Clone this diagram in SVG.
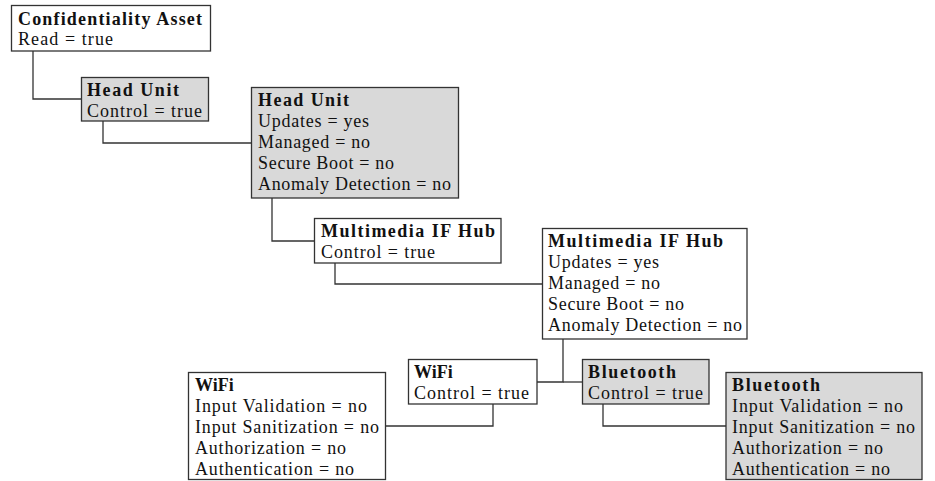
<svg xmlns="http://www.w3.org/2000/svg" width="935" height="481" viewBox="0 0 935 481">
<style>
.box{stroke:#333;stroke-width:1.3;fill:#fff}
.g{fill:#d9d9d9}
.t{font-family:"Liberation Serif","Times New Roman",serif;font-size:18px;fill:#111}
.b{font-weight:bold}
.c{fill:none;stroke:#333;stroke-width:1.3}
</style>
<rect width="935" height="481" fill="#fff"/>
<g id="connectors">
<polyline class="c" points="33,51 33,99 81,99"/>
<polyline class="c" points="103,121 103,143 251,143"/>
<polyline class="c" points="272,198 272,241 314,241"/>
<polyline class="c" points="335,263 335,284 542,284"/>
<polyline class="c" points="563,339 563,382 537,382"/>
<polyline class="c" points="563,382 582,382"/>
<polyline class="c" points="493,404 493,426 385,426"/>
<polyline class="c" points="603,404 603,426 726,426"/>
</g>
<g id="conf-asset">
<rect class="box" x="11.5" y="5.5" width="199" height="45.5"/>
<text class="t b" x="18" y="25" textLength="184" lengthAdjust="spacing">Confidentiality Asset</text>
<text class="t" x="18" y="45" textLength="95" lengthAdjust="spacing">Read = true</text>
</g>
<g id="head-unit-control">
<rect class="box g" x="81.5" y="77.5" width="127" height="43.5"/>
<text class="t b" x="87" y="96" textLength="92" lengthAdjust="spacing">Head Unit</text>
<text class="t" x="87" y="117" textLength="115" lengthAdjust="spacing">Control = true</text>
</g>
<g id="head-unit-props">
<rect class="box g" x="251.5" y="87.5" width="207" height="110.5"/>
<text class="t b" x="258" y="106" textLength="91" lengthAdjust="spacing">Head Unit</text>
<text class="t" x="258" y="127" textLength="111" lengthAdjust="spacing">Updates = yes</text>
<text class="t" x="258" y="148" textLength="112" lengthAdjust="spacing">Managed = no</text>
<text class="t" x="258" y="169" textLength="136" lengthAdjust="spacing">Secure Boot = no</text>
<text class="t" x="258" y="190" textLength="193" lengthAdjust="spacing">Anomaly Detection = no</text>
</g>
<g id="mm-hub-control">
<rect class="box" x="314.5" y="218.5" width="186.5" height="44.5"/>
<text class="t b" x="321" y="237" textLength="174" lengthAdjust="spacing">Multimedia IF Hub</text>
<text class="t" x="321" y="258" textLength="114" lengthAdjust="spacing">Control = true</text>
</g>
<g id="mm-hub-props">
<rect class="box" x="542.5" y="228.5" width="204.5" height="110.5"/>
<text class="t b" x="548" y="247" textLength="175" lengthAdjust="spacing">Multimedia IF Hub</text>
<text class="t" x="548" y="268" textLength="111" lengthAdjust="spacing">Updates = yes</text>
<text class="t" x="548" y="289" textLength="112" lengthAdjust="spacing">Managed = no</text>
<text class="t" x="548" y="310" textLength="136" lengthAdjust="spacing">Secure Boot = no</text>
<text class="t" x="548" y="331" textLength="194" lengthAdjust="spacing">Anomaly Detection = no</text>
</g>
<g id="wifi-control">
<rect class="box" x="408.5" y="359.5" width="128.5" height="44.5"/>
<text class="t b" x="414" y="378">WiFi</text>
<text class="t" x="414" y="399" textLength="115" lengthAdjust="spacing">Control = true</text>
</g>
<g id="bt-control">
<rect class="box g" x="582.5" y="359.5" width="126.5" height="44.5"/>
<text class="t b" x="588" y="378" textLength="88" lengthAdjust="spacing">Bluetooth</text>
<text class="t" x="588" y="399" textLength="115" lengthAdjust="spacing">Control = true</text>
</g>
<g id="wifi-props">
<rect class="box" x="188.5" y="372.5" width="197" height="107"/>
<text class="t b" x="195" y="391">WiFi</text>
<text class="t" x="195" y="412" textLength="172" lengthAdjust="spacing">Input Validation = no</text>
<text class="t" x="195" y="433" textLength="184" lengthAdjust="spacing">Input Sanitization = no</text>
<text class="t" x="195" y="454" textLength="151" lengthAdjust="spacing">Authorization = no</text>
<text class="t" x="195" y="475" textLength="159" lengthAdjust="spacing">Authentication = no</text>
</g>
<g id="bt-props">
<rect class="box g" x="726" y="372.5" width="196" height="107"/>
<text class="t b" x="732" y="391" textLength="88" lengthAdjust="spacing">Bluetooth</text>
<text class="t" x="732" y="412" textLength="171" lengthAdjust="spacing">Input Validation = no</text>
<text class="t" x="732" y="433" textLength="183" lengthAdjust="spacing">Input Sanitization = no</text>
<text class="t" x="732" y="454" textLength="151" lengthAdjust="spacing">Authorization = no</text>
<text class="t" x="732" y="475" textLength="158" lengthAdjust="spacing">Authentication = no</text>
</g>
</svg>
